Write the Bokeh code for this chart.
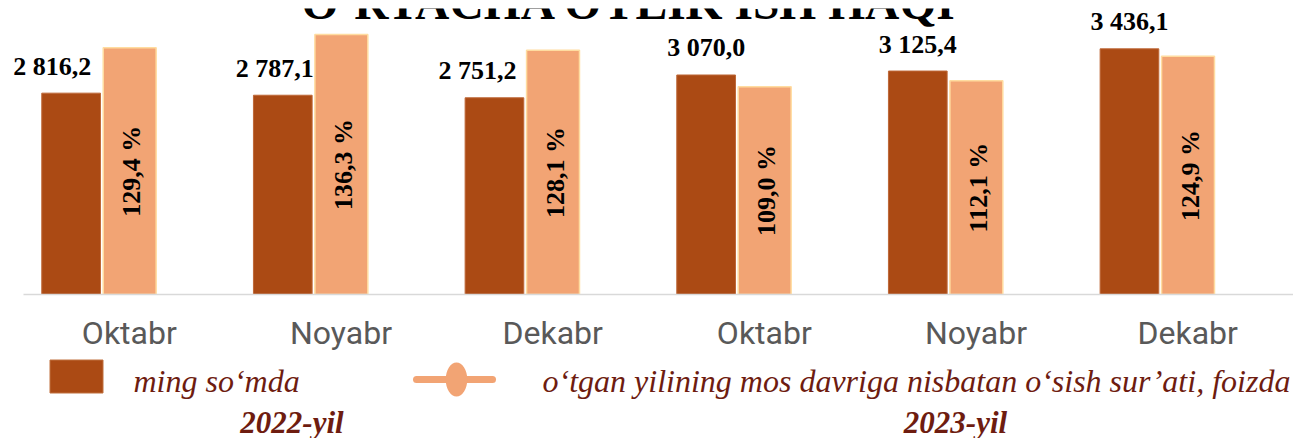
import numpy as np
from bokeh.plotting import figure
from bokeh.models import Range1d, FixedTicker, Label, ColumnDataSource
from bokeh.layouts import column
from bokeh.core.properties import value
from bokeh.embed import file_html
from bokeh.resources import INLINE

# ---------------- data ----------------
title_text = "O‘RTACHA OYLIK ISH HAQI"
months = ["Oktabr", "Noyabr", "Dekabr", "Oktabr", "Noyabr", "Dekabr"]
wage = [2816.2, 2787.1, 2751.2, 3070.0, 3125.4, 3436.1]        # ming so'mda
growth = [129.4, 136.3, 128.1, 109.0, 112.1, 124.9]            # foizda
years = ["2022-yil", "2023-yil"]
legend_wage = "ming so‘mda"
legend_growth = "o‘tgan yilining mos davriga nisbatan o‘sish sur’ati, foizda"

# label nudges (pixels) for the wage value labels
label_dx = [-19, -8, -17, 0, 0, 0]

# ---------------- style ----------------
DARK = "#AB4A14"
LIGHT = "#F2A474"
TXT_RED = "#6E1C10"
W, H1, H2 = 1293, 356, 82
AXIS_LEFT_PX = 23
CAT_PX = (W - AXIS_LEFT_PX) / len(months)

pos = np.arange(len(months)) + 0.5
dark_off, dark_w = -0.275, 0.2773
light_off, light_w = 0.0017, 0.25

fmt_wage = [f"{v:,.1f}".replace(",", " ").replace(".", ",") for v in wage]
fmt_growth = [f"{v:.1f}".replace(".", ",") + " %" for v in growth]

src = ColumnDataSource(dict(
    xd=pos + dark_off, xl=pos + light_off,
    wage=wage, growth=growth, half=[g / 2 for g in growth],
    wl=fmt_wage, gl=fmt_growth, dx=label_dx,
))

p = figure(width=W, height=H1,
           x_range=Range1d(-AXIS_LEFT_PX / CAT_PX, len(months)),
           y_range=Range1d(0, 4000), output_backend="svg",
           toolbar_location=None, tools="", y_axis_location=None,
           min_border_left=0, min_border_right=0, min_border_top=8,
           min_border_bottom=62)
p.extra_y_ranges = {"pct": Range1d(0, 150)}
p.outline_line_color = None
p.grid.visible = False
p.background_fill_color = "white"
p.border_fill_color = "white"

p.vbar(x="xd", top="wage", width=dark_w, bottom=0, source=src,
       fill_color=DARK, line_color="#BE6838", line_width=1)
p.vbar(x="xl", top="growth", width=light_w, bottom=0, source=src,
       y_range_name="pct", fill_color=LIGHT, line_color="#FFDCA0", line_width=1.5)

p.text(x="xd", y="wage", text="wl", source=src, x_offset="dx", y_offset=-27,
       text_align="center", text_baseline="alphabetic",
       text_font=value("Liberation Serif"), text_font_style="bold",
       text_font_size="26px", text_color="black")
p.text(x="xl", y="half", text="gl", source=src, y_range_name="pct",
       angle=np.pi / 2, x_offset=2, text_align="center", text_baseline="middle",
       text_font=value("Liberation Serif"), text_font_style="bold",
       text_font_size="26px", text_color="black")

ax = p.xaxis[0]
ax.bounds = (0, len(months))
ax.ticker = FixedTicker(ticks=list(pos))
ax.major_label_overrides = {float(x): m for x, m in zip(pos, months)}
ax.major_tick_line_color = None
ax.minor_tick_line_color = None
ax.major_tick_out = 0
ax.major_tick_in = 0
ax.axis_line_color = "#D9D9D9"
ax.axis_line_width = 1.5
ax.major_label_standoff = 19
ax.major_label_text_font = "Roboto"
ax.major_label_text_font_size = "32px"
ax.major_label_text_color = "#595959"

p.add_layout(Label(x=629, y=292, x_units="screen", y_units="screen",
                   text=title_text, text_align="center", text_baseline="alphabetic",
                   text_font="Liberation Serif", text_font_style="bold",
                   text_font_size="47.5px", text_color="black"))

# ---------------- legend strip ----------------
leg = figure(width=W, height=H2, x_range=Range1d(0, W), y_range=Range1d(0, H2),
             output_backend="svg", toolbar_location=None, tools="",
             x_axis_location=None, y_axis_location=None, min_border=0)
leg.outline_line_color = None
leg.grid.visible = False
leg.background_fill_color = "white"
leg.border_fill_color = "white"

def Y(y_page):
    return H1 + H2 - y_page

leg.quad(left=[49.5], right=[102.5], top=[Y(359.5)], bottom=[Y(392.5)],
         fill_color=DARK, line_color="#C0703E", line_width=1)
leg.line(x=[416, 492], y=[Y(379), Y(379)], line_color=LIGHT, line_width=7, line_cap="round")
leg.ellipse(x=[456], y=[Y(379)], width=21.5, height=34, fill_color=LIGHT, line_color=None)

leg.text(x=[133, 542], y=[Y(380), Y(380)], text=[legend_wage, legend_growth],
         text_align="left", text_baseline="alphabetic",
         text_font=value("Liberation Serif"), text_font_style="italic",
         text_font_size="32px", text_color=TXT_RED)
leg.text(x=[291.5, 955], y=[Y(422), Y(422)], text=years,
         text_align="center", text_baseline="alphabetic",
         text_font=value("Liberation Serif"), text_font_style="bold italic",
         text_font_size="31px", text_color=TXT_RED)

layout = column(p, leg, spacing=0)
open("out.html", "w").write(file_html(layout, INLINE))
